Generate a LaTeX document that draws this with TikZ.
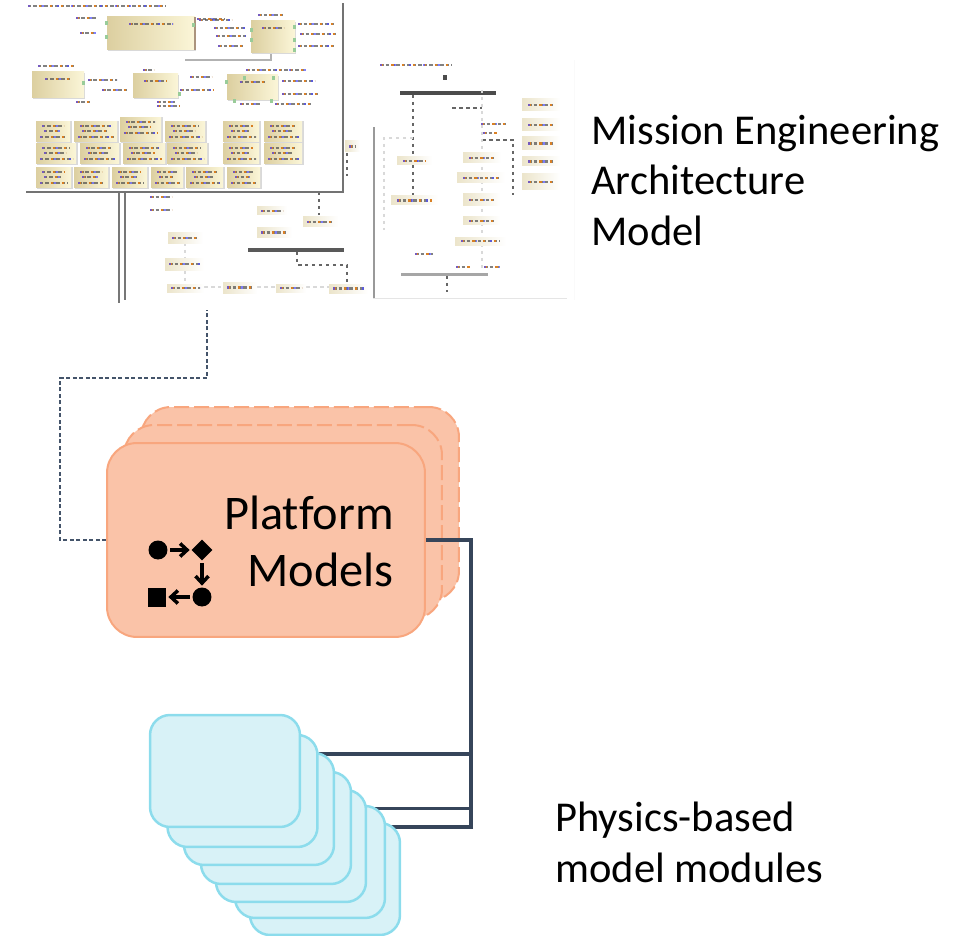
\documentclass[tikz,border=0pt]{standalone}
\usepackage{fontspec}
\setmainfont[Ligatures=CommonOff]{Carlito}
\usetikzlibrary{shapes.geometric,backgrounds,arrows.meta}

\definecolor{busblue}{HTML}{36455A}
\definecolor{dashblue}{HTML}{44546A}
\definecolor{platfill}{HTML}{FAC3A8}
\definecolor{platline}{HTML}{F8A67E}
\definecolor{modfill}{HTML}{D8F2F7}
\definecolor{modline}{HTML}{8CDCEC}
\definecolor{beigeL}{HTML}{FBF6D8}
\definecolor{beigeD}{HTML}{DCCFA0}
\definecolor{frameline}{HTML}{777777}

\tikzset{
  platbox/.style={draw=platline,fill=platfill,line width=0.04cm,rounded corners=0.6cm,
    minimum width=6.36cm,minimum height=3.88cm},
  modbox/.style={draw=modline,fill=modfill,line width=0.05cm,rounded corners=0.4cm,
    minimum width=3cm,minimum height=2.24cm},
  bigfont/.style={font=\fontsize{24.2}{28.6}\selectfont,align=left,anchor=north west,inner sep=0pt},
  bus/.style={busblue,line width=0.08cm},
  iconarrow/.style={black,line width=0.07cm,-{Straight Barb[length=0.14cm,width=0.26cm]},shorten >=0.03cm,shorten <=0.05cm},
  beigebox/.style={left color=beigeD,right color=beigeL},
  actbox/.style={left color=beigeD!55,right color=white},
  txtbits/.style={line width=0.055cm,draw=black!70,opacity=0.7,dash pattern=on 0.07cm off 0.04cm,
    postaction={draw=orange,dash pattern=on 0.05cm off 0.17cm},
    postaction={draw=blue!70,dash pattern=on 0.04cm off 0.25cm}},
  flowline/.style={line width=0.04cm,black!60,dash pattern=on 0.07cm off 0.07cm},
  paleline/.style={line width=0.03cm,black!15,dash pattern=on 0.07cm off 0.07cm}
}

\begin{document}
\begin{tikzpicture}[x=0.02cm,y=-0.02cm]
  \useasboundingbox (0,0) rectangle (961,936);

  % right diagram
  \fill[black!2] (574,60) rectangle (575,300);
  \fill[black!10] (373,298) rectangle (567,299);
  \fill[black!40] (373,127) rectangle (374.5,298);
  \draw[txtbits] (380,65) -- (452,65);
  \fill[black!70] (443,75) rectangle (447,80);
  \fill[black!70] (400,91) rectangle (496,95);
  \fill[black!35] (401,273) rectangle (488,276);
  \draw[flowline] (413,95) -- (413,195);
  \draw[flowline] (452,108) -- (482,108);
  \draw[flowline] (482,140) -- (513,140) -- (513,195);
  \draw[flowline] (447,276) -- (447,292);
  \draw[paleline] (413,138) -- (384,138) -- (384,230);
  \draw[paleline] (482,90) -- (482,270);
  \foreach \xa/\ya/\xb/\yb in {522/99/560/111,522/119/560/131,522/137/560/150,522/157/560/166,522/174/560/190,
      397/157/432/165,391/196/438/205,463/153/501/163,457/173/505/183,463/194/500/206,463/217/500/225,455/237/506/245}{
    \shade[actbox] (\xa,\ya) rectangle (\xb,\yb);
    \draw[txtbits] ({\xa+6},{(\ya+\yb)/2}) -- ({\xb-6},{(\ya+\yb)/2});
  }
  \foreach \xa/\xb/\yy in {481/508/124,483/497/133,415/433/254,456/470/267,484/500/267}
    \draw[txtbits] (\xa,\yy) -- (\xb,\yy);

  % middle diagram
  \fill[frameline] (118,192) rectangle (119.5,303);
  \fill[frameline] (124,192) rectangle (126,300);
  \fill[black!65] (248,248) rectangle (344,252);
  \draw[flowline] (319,192) -- (319,215);
  \draw[flowline] (297,252) -- (297,265) -- (347,265) -- (347,283);
  \draw[flowline] (347,153) -- (347,176);
  \draw[paleline] (185,243) -- (185,284);
  \draw[paleline] (204,287) -- (223,287);
  \draw[paleline] (257,287) -- (276,287);
  \draw[paleline] (306,287) -- (329,287);
  \foreach \xa/\ya/\xb/\yb in {168/233/203/243,165/258/204/270,167/284/204/292,223/282/257/293,276/284/306/292,
      329/284/368/293,257/207/287/215,257/228/292/237,303/217/338/227,345/141/360/152}{
    \shade[actbox] (\xa,\ya) rectangle (\xb,\yb);
    \draw[txtbits] ({\xa+4},{(\ya+\yb)/2}) -- ({\xb-4},{(\ya+\yb)/2});
  }
  \draw[txtbits] (150,210) -- (172,210);

  % front diagram
  \fill[white] (26,0) rectangle (342,191);
  \fill[black!55] (341.5,3) rectangle (344,193);
  \fill[black!55] (26,191) rectangle (344,193);
  \fill[black!30] (185,59) rectangle (272,61.5);
  \fill[black!30] (270,53) rectangle (272,61);
  \foreach \xa/\ya/\xb/\yb in {107/17/195/50,251/21/295/53,32/72/84/98,133/74/178/98,227/75/278/100}{
    \fill[black!15] ({\xa+1},{\ya+1}) rectangle ({\xb+1},{\yb+1});
    \shade[beigebox] (\xa,\ya) rectangle (\xb,\yb);
    \draw[txtbits] ({\xa+(\xb-\xa)*0.25},{\ya+7}) -- ({\xb-(\xb-\xa)*0.25},{\ya+7});
  }
  \fill[black!40!brown!60] (194,17) rectangle (195.5,50);
  \foreach \xa/\ya in {105/21,105/35,192/23,250/28,250/38,293/25,293/38,293/48,82/81,178/92,225/80,243/76,272/76,233/99,270/99}
    \fill[green!50!black!40] (\xa,\ya) rectangle ({\xa+3},{\ya+4});
  \foreach \xa/\ya/\xb/\yb in {36/122/70/142,74/122/117/142,120/118/161/142,165/122/205/142,223/122/259/142,264/122/302/142,
      36/144/76/164,80/144/119/164,123/144/165/164,167/144/207/164,223/144/259/164,264/144/302/164,
      36/168/71/188,74/168/108/188,112/168/147/188,151/168/183/188,186/168/223/188,227/168/260/188}{
    \fill[black!15] ({\xa+1},{\ya-0.5}) rectangle ({\xb+1.5},{\yb+1});
    \shade[beigebox] (\xa,\ya) rectangle (\xb,\yb);
    \draw[txtbits] ({\xa+6},{\ya+4}) -- ({\xb-6},{\ya+4});
    \draw[txtbits] ({\xa+8},{\ya+9}) -- ({\xb-10},{\ya+9});
    \draw[txtbits] ({\xa+4},{\ya+15}) -- ({\xb-3},{\ya+15});
  }
  \foreach \xa/\xb/\yy in {28/166/6,76/96/18,80/96/33,197/225/19,199/232/20,258/283/15,214/245/28,216/246/36,218/245/46,
      298/336/24,300/336/34,298/336/46,38/76/66,88/117/80,102/128/90,76/90/102,143/154/70,190/212/77,180/214/90,157/175/102,
      157/180/106,246/306/70,282/315/81,282/318/94,240/260/104,275/312/104}
    \draw[txtbits] (\xa,\yy) -- (\xb,\yy);
  \draw[txtbits] (150,197) -- (172,197);

  \node[bigfont] (archlabel) at (591,115) {Mission Engineering\\Architecture\\Model};
  \coordinate (archport) at (207,310);

  % platform stack
  \node[platbox,dash pattern=on 0.3cm off 0.1cm] (platC) at (300,504) {};
  \node[platbox,dash pattern=on 0.3cm off 0.1cm] (platB) at (283,522) {};
  \node[platbox] (platA) at (266,540) {};
  \node[font=\fontsize{27.5}{32.4}\selectfont,align=right,anchor=east,inner sep=0pt] (platlabel) at (394,541) {Platform\\Models};

  % little flow icon
  \node[circle,fill=black,inner sep=0,minimum size=0.38cm] (dotA) at (158,550) {};
  \node[diamond,fill=black,inner sep=0,minimum size=0.42cm] (gate) at (202,550) {};
  \node[circle,fill=black,inner sep=0,minimum size=0.38cm] (dotB) at (202,597) {};
  \node[rectangle,fill=black,inner sep=0,minimum size=0.38cm] (stop) at (157,597) {};
  \draw[iconarrow] (dotA) -- (gate);
  \draw[iconarrow] (gate) -- (dotB);
  \draw[iconarrow] (dotB) -- (stop);

  % module stack
  \foreach \nm/\xx/\yy in {G/325/879,F/310/862,E/291/846,D/276/828,C/259/809,B/242.5/791,A/225/771}
    \node[modbox] (mod\nm) at (\xx,\yy) {};
  \node[bigfont] (modlabel) at (555,802) {Physics-based\\model modules};

  \coordinate (busB) at (471,754);
  \coordinate (busC) at (471,808);
  \coordinate (busD) at (471,827);
  \begin{pgfonlayer}{background}
    \draw[bus] (busB) -- (modB.east |- busB);
    \draw[bus,line width=0.06cm] (busC) -- (modE.east |- busC);
    \draw[bus] ([xshift=0.04cm]busD) -- (modF.east |- busD);
  \end{pgfonlayer}
  \draw[bus] (platA.east) -- (busD |- platA.east) -- (busD);
  \draw[dashblue,line width=0.024cm,dash pattern=on 0.08cm off 0.05cm]
    (platA.west) -- (60,540) -- (60,378) -- (207,378) -- (archport);
\end{tikzpicture}
\end{document}
